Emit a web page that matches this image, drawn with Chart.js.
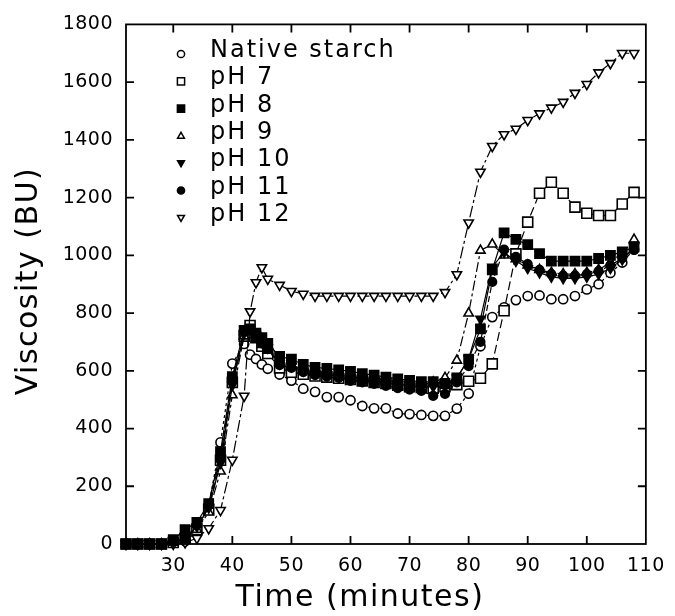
<!DOCTYPE html>
<html>
<head>
<meta charset="utf-8">
<script src="https://cdn.jsdelivr.net/npm/chart.js@4.4.0/dist/chart.umd.min.js"></script>
<style>
  html, body { margin: 0; padding: 0; background: #fff; }
  #wrap { width: 675px; height: 616px; }
</style>
</head>
<body>
<div id="wrap"><canvas id="viscChart" width="675" height="616"></canvas></div>
<script>
// sampling times (minutes), shared by every curve
const timeMin = [22, 24, 26, 28, 30, 32, 34, 36, 38, 40,
                 42, 43, 44, 45, 46,
                 48, 50, 52, 54, 56, 58, 60, 62, 64, 66, 68, 70, 72, 74, 76,
                 78, 80, 82, 84, 86, 88, 90, 92, 94, 96, 98, 100, 102, 104, 106, 108];

// viscosity (BU)
const nativeStarch = [0, 0, 0, 0, 5, 10, 42, 134, 352, 625,
                      693, 656, 641, 622, 607,
                      587, 566, 538, 527, 509, 509, 498, 478, 470, 470, 452, 450, 447, 444, 444,
                      469, 521, 685, 786, 820, 845, 859, 861, 848, 848, 859, 882, 900, 939, 975, 1020];
const ph7 = [0, 0, 0, 0, 5, 20, 50, 120, 290, 560,
             720, 757, 715, 685, 660,
             610, 595, 588, 582, 578, 574, 570, 565, 560, 556, 550, 545, 542, 540, 545,
             552, 564, 574, 624, 808, 1005, 1115, 1215, 1253, 1215, 1167, 1146, 1138, 1138, 1178, 1218];
const ph8 = [0, 0, 0, 0, 15, 50, 75, 140, 320, 580,
             740, 745, 730, 715, 695,
             650, 640, 622, 612, 608, 603, 598, 590, 585, 578, 572, 567, 562, 562, 556,
             575, 640, 745, 950, 1078, 1055, 1037, 1006, 980, 980, 980, 980, 989, 1000, 1012, 1029];
const ph9 = [0, 0, 0, 0, 5, 15, 50, 110, 252, 516,
             720, 740, 710, 690, 670,
             630, 620, 605, 598, 592, 585, 580, 575, 568, 565, 560, 556, 552, 560, 576,
             636, 799, 1017, 1038, 1000, 987, 966, 950, 940, 935, 935, 940, 950, 975, 1005, 1055];
const ph10 = [0, 0, 0, 0, 8, 20, 60, 125, 280, 550,
              730, 745, 720, 700, 680,
              625, 615, 600, 592, 587, 580, 575, 570, 563, 558, 553, 550, 546, 545, 548,
              575, 642, 780, 960, 1010, 980, 955, 940, 925, 920, 920, 925, 935, 955, 985, 1030];
const ph11 = [0, 0, 0, 0, 10, 20, 65, 135, 300, 570,
              735, 740, 715, 695, 675,
              620, 610, 595, 585, 580, 575, 565, 560, 555, 548, 540, 535, 530, 513, 520,
              560, 616, 700, 908, 1020, 995, 970, 950, 935, 930, 930, 935, 945, 965, 990, 1020];
const ph12 = [0, 0, 0, 0, 0, 5, 20, 54, 117, 291,
              513, 805, 906, 958, 918,
              897, 876, 866, 859, 859, 859, 859, 859, 859, 859, 859, 859, 859, 859, 872,
              934, 1113, 1289, 1378, 1419, 1438, 1468, 1491, 1511, 1531, 1562, 1593, 1633, 1665, 1700, 1700];

const seriesLabels = ['Native starch', 'pH 7', 'pH 8', 'pH 9', 'pH 10', 'pH 11', 'pH 12'];
const xTickVals = [30, 40, 50, 60, 70, 80, 90, 100, 110];
const yTickVals = [0, 200, 400, 600, 800, 1000, 1200, 1400, 1600, 1800];

// marker / line look for each curve (order: lower is drawn on top)
const seriesLook = [
  { shape: 'circle', filled: false, dash: [3, 3], r: 4.6, order: 6 },
  { shape: 'rect', filled: false, dash: [9, 4], r: 5, order: 5 },
  { shape: 'rect', filled: true, dash: [], r: 4.6, order: 1 },
  { shape: 'up', filled: false, dash: [10, 3, 3, 3], r: 5.4, order: 3 },
  { shape: 'down', filled: true, dash: [], r: 5.2, order: 2 },
  { shape: 'circle', filled: true, dash: [6, 3], r: 4.3, order: 0 },
  { shape: 'down', filled: false, dash: [12, 3, 3, 3], r: 5.4, order: 4 }
];
const seriesValues = [nativeStarch, ph7, ph8, ph9, ph10, ph11, ph12];

const FONT = '"DejaVu Sans", sans-serif';

function drawMark(ctx, look, x, y, r) {
  ctx.beginPath();
  if (look.shape === 'circle') {
    ctx.arc(x, y, r, 0, Math.PI * 2);
  } else if (look.shape === 'rect') {
    ctx.rect(x - r, y - r, 2 * r, 2 * r);
  } else if (look.shape === 'up') {
    ctx.moveTo(x, y - r);
    ctx.lineTo(x + r * 0.95, y + r * 0.65);
    ctx.lineTo(x - r * 0.95, y + r * 0.65);
    ctx.closePath();
  } else {
    ctx.moveTo(x, y + r);
    ctx.lineTo(x + r * 0.95, y - r * 0.65);
    ctx.lineTo(x - r * 0.95, y - r * 0.65);
    ctx.closePath();
  }
  ctx.fillStyle = look.filled ? '#000' : '#fff';
  ctx.fill();
  ctx.stroke();
}

const framePlugin = {
  id: 'frameAndTitles',
  beforeDraw(chart) {
    chart.ctx.letterSpacing = '0.5px';
  },
  afterDraw(chart) {
    const { ctx, chartArea: a, scales } = chart;
    ctx.save();
    ctx.strokeStyle = '#000';
    ctx.lineWidth = 1.8;
    ctx.strokeRect(a.left, a.top, a.right - a.left, a.bottom - a.top);

    // inward ticks on all four sides
    ctx.beginPath();
    xTickVals.slice(0, -1).forEach(v => {
      const px = scales.x.getPixelForValue(v);
      ctx.moveTo(px, a.bottom); ctx.lineTo(px, a.bottom - 8);
      ctx.moveTo(px, a.top); ctx.lineTo(px, a.top + 8);
    });
    yTickVals.slice(1, -1).forEach(v => {
      const py = scales.y.getPixelForValue(v);
      ctx.moveTo(a.left, py); ctx.lineTo(a.left + 8, py);
      ctx.moveTo(a.right, py); ctx.lineTo(a.right - 8, py);
    });
    ctx.stroke();

    // axis titles
    ctx.fillStyle = '#000';
    ctx.textAlign = 'center';
    ctx.textBaseline = 'middle';
    ctx.font = '30px ' + FONT;
    ctx.letterSpacing = '1.5px';
    ctx.fillText('Time (minutes)', 360, 598);
    ctx.save();
    ctx.translate(29, 281);
    ctx.rotate(-Math.PI / 2);
    ctx.fillText('Viscosity (BU)', 0, 0);
    ctx.restore();

    // legend inside the plot
    ctx.font = '24px ' + FONT;
    ctx.letterSpacing = '2px';
    ctx.textAlign = 'left';
    ctx.textBaseline = 'alphabetic';
    ctx.lineWidth = 1.5;
    seriesLabels.forEach((lbl, i) => {
      const rowY = 57 + i * 27.3;
      drawMark(ctx, seriesLook[i], 181, rowY - 3, 3.6);
      ctx.fillStyle = '#000';
      ctx.fillText(lbl, 210, rowY);
    });
    ctx.restore();
  }
};

const datasets = seriesLabels.map((lbl, i) => {
  const look = seriesLook[i];
  return {
    label: lbl,
    order: look.order,
    data: timeMin.map((t, k) => ({ x: t, y: seriesValues[i][k] })),
    borderColor: '#000',
    borderWidth: 1.2,
    borderDash: look.dash,
    pointStyle: look.shape === 'circle' ? 'circle' : (look.shape === 'rect' ? 'rect' : 'triangle'),
    rotation: look.shape === 'down' ? 180 : 0,
    pointRadius: look.shape === 'rect' ? look.r * 1.414 : look.r,
    pointBorderWidth: 1.6,
    pointBackgroundColor: look.filled ? '#000' : '#fff',
    pointBorderColor: '#000',
    tension: 0,
    fill: false,
    clip: false
  };
});

new Chart(document.getElementById('viscChart').getContext('2d'), {
  type: 'line',
  data: { datasets },
  options: {
    responsive: false,
    animation: false,
    devicePixelRatio: 1,
    layout: { padding: { top: 21, right: 27, bottom: 0, left: 0 } },
    plugins: { legend: { display: false }, tooltip: { enabled: false } },
    scales: {
      x: {
        type: 'linear', min: 22, max: 110,
        afterBuildTicks: s => { s.ticks = xTickVals.map(v => ({ value: v })); },
        afterFit: s => { s.height = 72; },
        grid: { display: false, drawTicks: false },
        border: { display: false },
        ticks: { color: '#000', font: { family: FONT, size: 19 }, padding: 11, maxRotation: 0, autoSkip: false,
                 callback: v => String(v) }
      },
      y: {
        type: 'linear', min: 0, max: 1800,
        afterBuildTicks: s => { s.ticks = yTickVals.map(v => ({ value: v })); },
        afterFit: s => { s.width = 126; },
        grid: { display: false, drawTicks: false },
        border: { display: false },
        ticks: { color: '#000', font: { family: FONT, size: 19 }, padding: 13, autoSkip: false,
                 callback: v => String(v) }
      }
    }
  },
  plugins: [framePlugin]
});
</script>
</body>
</html>
